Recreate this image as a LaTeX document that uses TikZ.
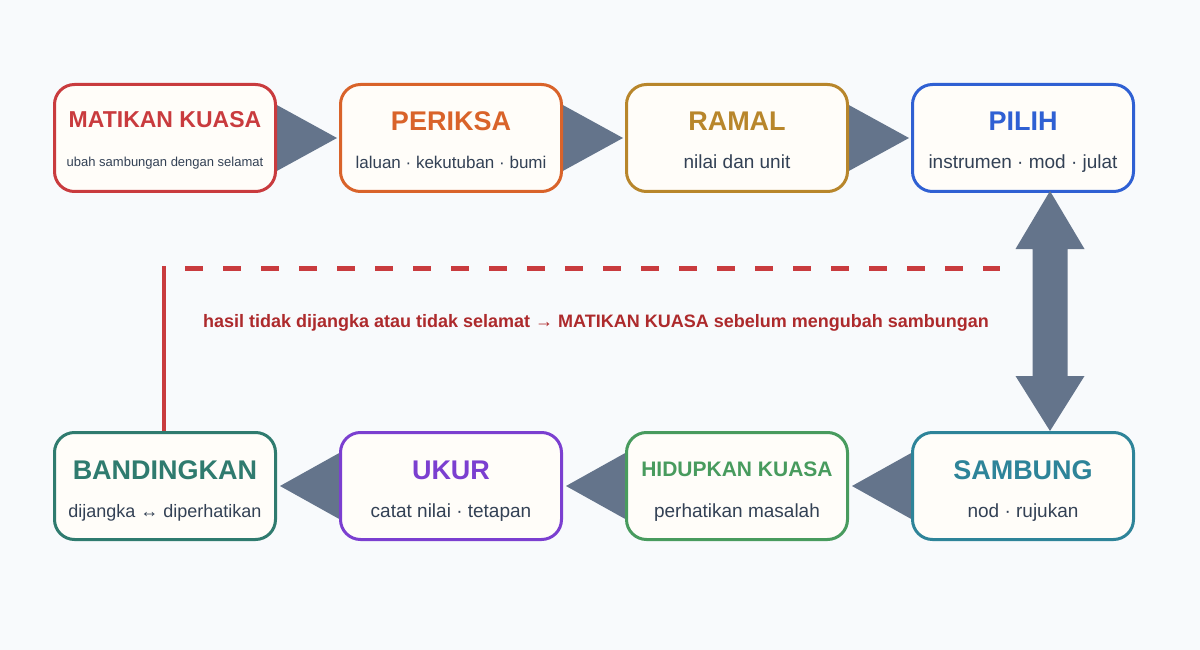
\documentclass[tikz,border=0pt]{standalone}
\usepackage{fontspec}
\setmainfont{Liberation Sans}
\usetikzlibrary{calc}
\pgfdeclarelayer{back}
\pgfdeclarelayer{backmost}
\pgfsetlayers{backmost,back,main}
\definecolor{bgc}{HTML}{F8FAFC}
\definecolor{boxfill}{HTML}{FFFDF9}
\definecolor{arrowc}{HTML}{64748B}
\definecolor{subc}{HTML}{334155}
\definecolor{cA}{HTML}{C93B3E}
\definecolor{cB}{HTML}{D9632A}
\definecolor{cC}{HTML}{B8862B}
\definecolor{cD}{HTML}{2F60D3}
\definecolor{cE}{HTML}{2E8499}
\definecolor{cF}{HTML}{489B5E}
\definecolor{cG}{HTML}{7B3FD0}
\definecolor{cH}{HTML}{2F7B6F}
\definecolor{msgc}{HTML}{AD2A2C}
\tikzset{
  stepbox/.style={draw, line width=3pt, fill=boxfill, rounded corners=20pt,
    minimum width=221pt, minimum height=107pt, inner sep=0pt},
  titletext/.style={anchor=base, inner sep=0pt, font=\bfseries\fontsize{27}{31}\selectfont},
  subtext/.style={anchor=base, inner sep=0pt, text=subc, font=\fontsize{19}{22}\selectfont},
  tri/.style={fill=arrowc},
}
\begin{document}
\begin{tikzpicture}[x=1pt,y=-1pt]
\begin{pgfonlayer}{backmost}
\fill[bgc] (0,0) rectangle (1200,650);
\end{pgfonlayer}
\useasboundingbox (0,0) rectangle (1200,650);

% boxes
\node[stepbox, draw=cA] (matikan) at (165,138) {};
\node[stepbox, draw=cB] (periksa) at (451,138) {};
\node[stepbox, draw=cC] (ramal) at (737,138) {};
\node[stepbox, draw=cD] (pilih) at (1023,138) {};
\node[stepbox, draw=cE] (sambung) at (1023,486) {};
\node[stepbox, draw=cF] (hidupkan) at (737,486) {};
\node[stepbox, draw=cG] (ukur) at (451,486) {};
\node[stepbox, draw=cH] (banding) at (165,486) {};

% titles
\node[titletext, text=cA, font=\bfseries\fontsize{23}{27}\selectfont] (tA) at ($(matikan.north)+(0,45)$) {MATIKAN KUASA};
\node[subtext, font=\fontsize{13}{16}\selectfont] (sA) at ($(matikan.north)+(0,84)$) {ubah sambungan dengan selamat};
\node[titletext, text=cB] (tB) at ($(periksa.north)+(0,48)$) {PERIKSA};
\node[subtext, font=\fontsize{17}{20}\selectfont] (sB) at ($(periksa.north)+(0,86)$) {laluan · kekutuban · bumi};
\node[titletext, text=cC] (tC) at ($(ramal.north)+(0,48)$) {RAMAL};
\node[subtext] (sC) at ($(ramal.north)+(0,86)$) {nilai dan unit};
\node[titletext, text=cD] (tD) at ($(pilih.north)+(0,48)$) {PILIH};
\node[subtext] (sD) at ($(pilih.north)+(0,86)$) {instrumen · mod · julat};
\node[titletext, text=cE] (tE) at ($(sambung.north)+(0,48)$) {SAMBUNG};
\node[subtext] (sE) at ($(sambung.north)+(0,86)$) {nod · rujukan};
\node[titletext, text=cF, font=\bfseries\fontsize{21}{25}\selectfont] (tF) at ($(hidupkan.north)+(0,45)$) {HIDUPKAN KUASA};
\node[subtext] (sF) at ($(hidupkan.north)+(0,86)$) {perhatikan masalah};
\node[titletext, text=cG] (tG) at ($(ukur.north)+(0,48)$) {UKUR};
\node[subtext] (sG) at ($(ukur.north)+(0,86)$) {catat nilai · tetapan};
\node[titletext, text=cH] (tH) at ($(banding.north)+(0,48)$) {BANDINGKAN};
\node[subtext, font=\fontsize{18}{21}\selectfont] (sH) at ($(banding.north)+(0,86)$) {dijangka ↔ diperhatikan};

% connecting triangles
\begin{pgfonlayer}{back}
\fill[tri] ($(matikan.east)+(-2,-34)$) -- ($(periksa.west)+(-2,0)$) -- ($(matikan.east)+(-2,34)$) -- cycle;
\fill[tri] ($(periksa.east)+(-2,-34)$) -- ($(ramal.west)+(-2,0)$) -- ($(periksa.east)+(-2,34)$) -- cycle;
\fill[tri] ($(ramal.east)+(-2,-34)$) -- ($(pilih.west)+(-2,0)$) -- ($(ramal.east)+(-2,34)$) -- cycle;
\fill[tri] ($(sambung.west)+(2,-34)$) -- ($(hidupkan.east)+(3,0)$) -- ($(sambung.west)+(2,34)$) -- cycle;
\fill[tri] ($(hidupkan.west)+(2,-34)$) -- ($(ukur.east)+(3,0)$) -- ($(hidupkan.west)+(2,34)$) -- cycle;
\fill[tri] ($(ukur.west)+(2,-34)$) -- ($(banding.east)+(3,0)$) -- ($(ukur.west)+(2,34)$) -- cycle;
\end{pgfonlayer}

% double arrow pilih <-> sambung
\coordinate (dT) at ($(pilih.south)+(27,-2)$);
\coordinate (dB) at ($(sambung.north)+(27,0)$);
\fill[tri] (dT) -- ($(dT)+(34.5,58)$) -- ($(dT)+(17.5,58)$) -- ($(dB)+(17.5,-55)$) -- ($(dB)+(34.5,-55)$)
  -- (dB) -- ($(dB)+(-34.5,-55)$) -- ($(dB)+(-17.5,-55)$) -- ($(dT)+(-17.5,58)$) -- ($(dT)+(-34.5,58)$) -- cycle;

% feedback line
\coordinate (dashend) at (1000,268);
\coordinate (corner) at ($(banding.north |- dashend)+(-1,-2)$);
\draw[cA, line width=4pt] ($(banding.north)+(-1,0)$) -- (corner);
\draw[cA, line width=5pt, dash pattern=on 18pt off 20pt] ($(corner)+(21,2)$) -- (dashend);
\node[anchor=base, inner sep=0pt, text=msgc, font=\bfseries\fontsize{18}{21}\selectfont] (msg) at (596,327)
  {hasil tidak dijangka atau tidak selamat → MATIKAN KUASA sebelum mengubah sambungan};
\end{tikzpicture}
\end{document}
